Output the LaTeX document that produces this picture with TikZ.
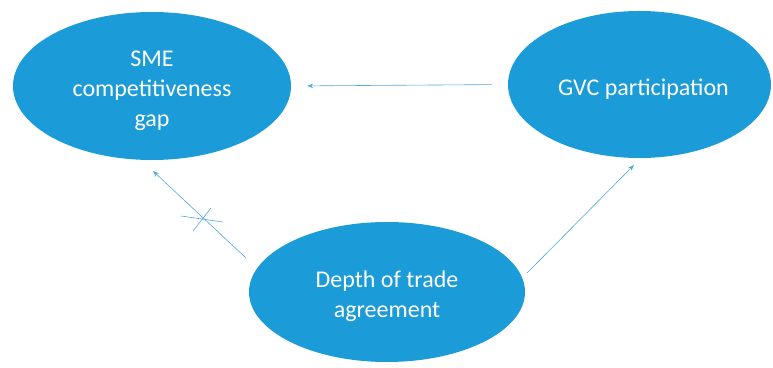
\documentclass[tikz,border=0pt]{standalone}
\usepackage{fontspec}
\setmainfont{Carlito}
\usepackage{tikz}
\usetikzlibrary{calc}
\usetikzlibrary{arrows.meta,shapes.geometric,positioning}
\definecolor{bubble}{RGB}{27,155,215}
\definecolor{link}{RGB}{80,170,222}
\tikzset{>={Stealth[length=6pt,width=4.5pt]}}
\tikzset{
  bub/.style={ellipse,fill=bubble,inner sep=0pt},
  txt/.style={text=white,align=center,yshift=-4.5pt,
    font=\fontsize{24}{30}\selectfont},
  lnk/.style={draw=link,line width=0.6pt}
}

\begin{document}
\begin{tikzpicture}[x=1pt,y=1pt]
\useasboundingbox (0,0) rectangle (773,367);
\node[bub,minimum width=278pt,minimum height=148pt,
  label={[txt]center:SME\\competitiveness\\gap}] (sme) at (152,281) {};
\node[bub,minimum width=263pt,minimum height=147pt,
  label={[txt,xshift=4pt]center:GVC participation}] (gvc) at (639.5,282.5) {};
\node[bub,minimum width=276pt,minimum height=140pt,
  label={[txt]center:Depth of trade\\agreement}] (depth) at (387,75) {};
\coordinate (d1) at (246,109);
\coordinate (s1) at (153,196);
\coordinate (d2) at (527,94);
\coordinate (g1) at (634,202);
\coordinate (x1) at (181,151);
\coordinate (x2) at (223,145);
\coordinate (x3) at (211,159);
\coordinate (x4) at (193,136);
\draw[lnk,->,shorten <=16pt,shorten >=16pt] (gvc.west) -- (sme.east);
\draw[lnk,->] (d1) -- (s1);
\draw[lnk,->] (d2) -- (g1);
\draw[lnk] (x1) -- (x2);
\draw[lnk] (x3) -- (x4);
\end{tikzpicture}
\end{document}
